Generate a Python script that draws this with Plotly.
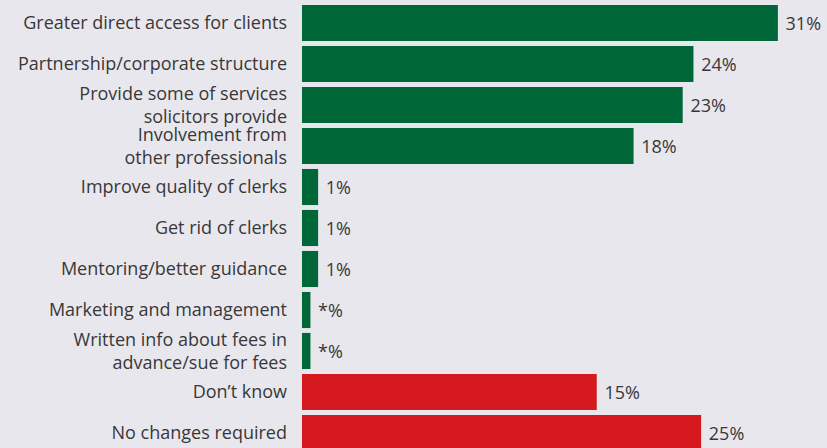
import plotly.graph_objects as go

# categories, top to bottom
answers = ['Greater direct access for clients',
           'Partnership/corporate structure',
           'Provide some of services<br>solicitors provide',
           'Involvement from<br>other professionals',
           'Improve quality of clerks',
           'Get rid of clerks',
           'Mentoring/better guidance',
           'Marketing and management',
           'Written info about fees in<br>advance/sue for fees',
           'Don\u2019t know',
           'No changes required']
# bar lengths as drawn in the picture (the source chart is not strictly to scale)
bar_len = [31.0, 25.5, 24.8, 21.6, 1.05, 1.05, 1.05, 0.55, 0.55, 19.2, 26.0]
# printed value labels
pct = ['31%', '24%', '23%', '18%', '1%', '1%', '1%', '*%', '*%', '15%', '25%']
group = ['change'] * 9 + ['dk', 'none']

green = '#006838'
red = '#d6181f'
bg = '#e9e7ee'
colors = [green if g == 'change' else red for g in group]
FONT = 'Open Sans'

fig = go.Figure(go.Bar(
    x=bar_len, y=answers, orientation='h',
    marker=dict(color=colors, line=dict(width=0)),
    width=0.88,
    text=[' ' + p for p in pct], textposition='outside', cliponaxis=False,
    textfont=dict(size=18, color='#383838', family=FONT),
))

fig.update_layout(
    width=827, height=448,
    margin=dict(l=302, r=0, t=0, b=0, autoexpand=False),
    paper_bgcolor=bg, plot_bgcolor=bg,
    font=dict(family=FONT, size=18, color='#383838'),
    showlegend=False,
)
fig.update_xaxes(range=[0, 34.2], visible=False)
fig.update_yaxes(type='category', categoryorder='array', categoryarray=answers,
                 range=[10.366, -0.561], showgrid=False, zeroline=False,
                 showline=False, ticks='', ticklabelstandoff=14, automargin=False)

# drop the default 8px page margin so the chart sits flush in the window
fix_page = ("document.body.style.margin='0';"
            "document.body.style.background='%s';" % bg)
fig.write_html("out.html", config={'displayModeBar': False}, post_script=fix_page)
